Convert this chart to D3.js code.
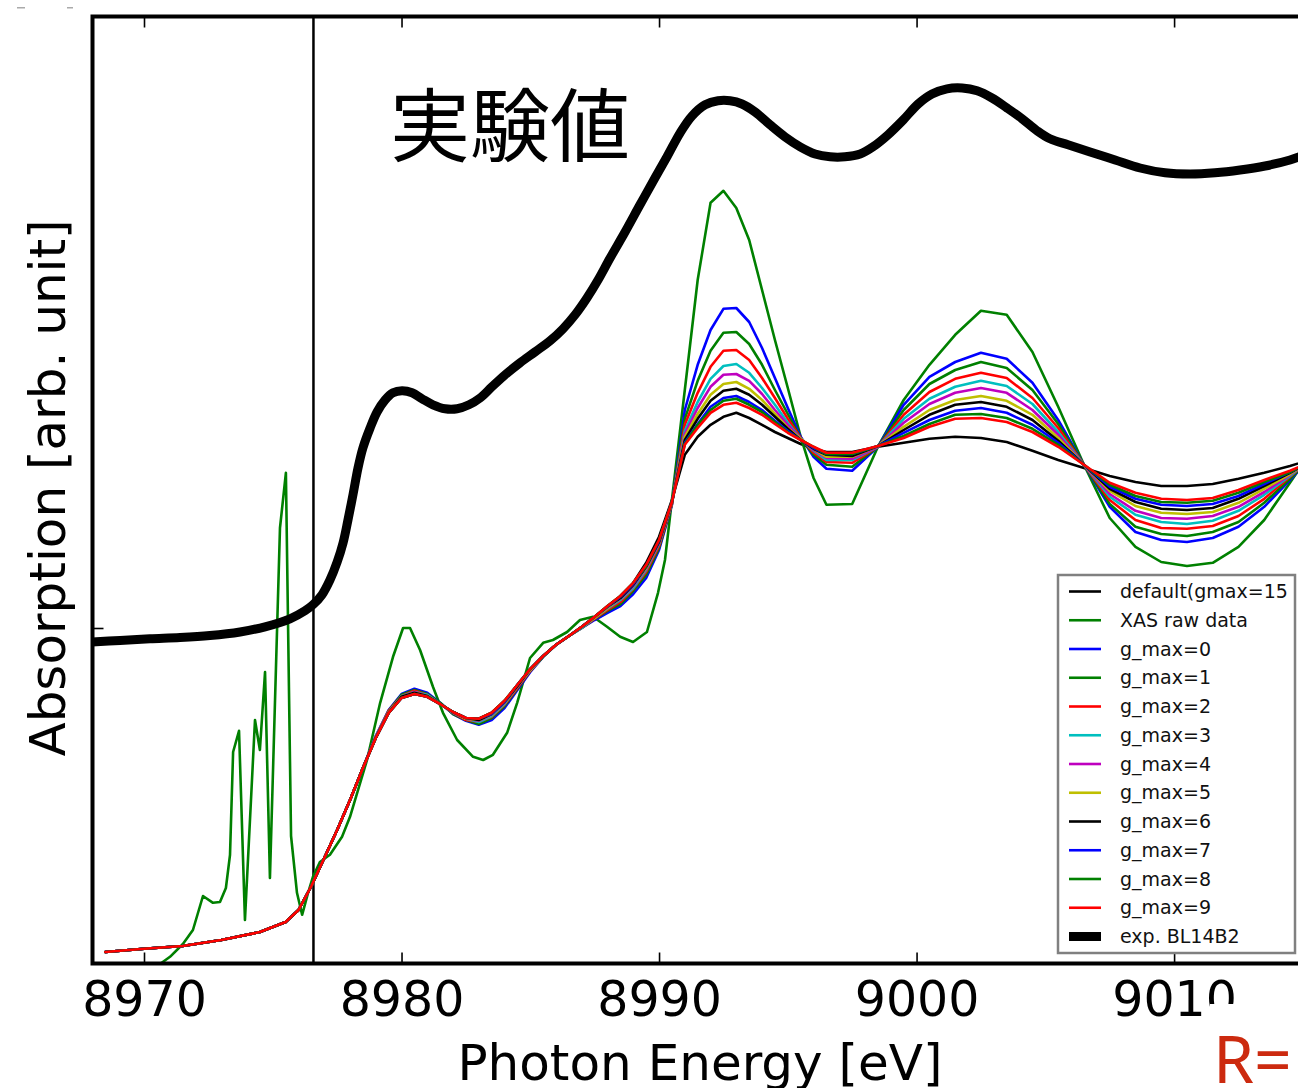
<!DOCTYPE html>
<html>
<head>
<meta charset="utf-8">
<script src="https://cdn.jsdelivr.net/npm/d3@7"></script>
<style>
  html, body { margin: 0; padding: 0; background: #ffffff; overflow: hidden; }
  svg { display: block; }
</style>
</head>
<body>
<svg id="chart" width="1298" height="1088"></svg>
<script>
// ---------- data ----------
// energy grid of the calculated spectra (eV)
const calcEnergy = [8968.5, 8970, 8971.5, 8973, 8974.5, 8975.5, 8976, 8976.5, 8977, 8977.5, 8978, 8978.5, 8979, 8979.5, 8980, 8980.5, 8981, 8981.5, 8982, 8982.5, 8983, 8983.5, 8984, 8984.5, 8985, 8985.5, 8986, 8986.5, 8987, 8987.5, 8988, 8988.5, 8989, 8989.5, 8990, 8990.5, 8991, 8991.5, 8992, 8992.5, 8993, 8993.5, 8994, 8994.5, 8995, 8995.5, 8996, 8996.5, 8997.5, 8998.5, 8999.5, 9000.5, 9001.5, 9002.5, 9003.5, 9004.5, 9005.5, 9006.5, 9007.5, 9008.5, 9009.5, 9010.5, 9011.5, 9012.5, 9013.5, 9014.5, 9015.5];

const defaultGmax15 = [0.09, 0.098, 0.105, 0.12, 0.14, 0.165, 0.195, 0.255, 0.325, 0.395, 0.47, 0.55, 0.625, 0.688, 0.725, 0.735, 0.728, 0.71, 0.69, 0.675, 0.673, 0.688, 0.718, 0.758, 0.798, 0.83, 0.858, 0.88, 0.903, 0.928, 0.955, 0.98, 1.013, 1.063, 1.128, 1.22, 1.333, 1.378, 1.408, 1.428, 1.438, 1.425, 1.408, 1.39, 1.375, 1.36, 1.348, 1.34, 1.34, 1.353, 1.363, 1.373, 1.378, 1.375, 1.365, 1.343, 1.32, 1.3, 1.28, 1.265, 1.255, 1.255, 1.26, 1.273, 1.288, 1.305, 1.325];

const gmax0 = [0.09, 0.098, 0.105, 0.12, 0.14, 0.165, 0.195, 0.255, 0.325, 0.395, 0.47, 0.55, 0.63, 0.695, 0.735, 0.748, 0.738, 0.713, 0.685, 0.668, 0.658, 0.67, 0.7, 0.745, 0.79, 0.828, 0.858, 0.88, 0.9, 0.92, 0.938, 0.955, 0.985, 1.025, 1.095, 1.208, 1.445, 1.558, 1.645, 1.698, 1.7, 1.665, 1.6, 1.525, 1.45, 1.378, 1.328, 1.298, 1.293, 1.353, 1.458, 1.528, 1.565, 1.588, 1.573, 1.513, 1.42, 1.308, 1.203, 1.14, 1.12, 1.115, 1.125, 1.153, 1.203, 1.27, 1.34];

const gmax1 = [0.09, 0.098, 0.105, 0.12, 0.14, 0.165, 0.195, 0.255, 0.325, 0.395, 0.47, 0.55, 0.628, 0.693, 0.733, 0.745, 0.735, 0.713, 0.685, 0.67, 0.66, 0.675, 0.705, 0.748, 0.793, 0.828, 0.858, 0.88, 0.9, 0.923, 0.943, 0.96, 0.993, 1.033, 1.1, 1.21, 1.423, 1.518, 1.593, 1.638, 1.64, 1.61, 1.558, 1.495, 1.435, 1.375, 1.333, 1.308, 1.303, 1.353, 1.445, 1.51, 1.545, 1.565, 1.55, 1.495, 1.41, 1.308, 1.21, 1.153, 1.135, 1.13, 1.14, 1.165, 1.213, 1.273, 1.338];

const gmax2 = [0.09, 0.098, 0.105, 0.12, 0.14, 0.165, 0.195, 0.255, 0.325, 0.395, 0.47, 0.55, 0.628, 0.693, 0.73, 0.743, 0.733, 0.71, 0.688, 0.67, 0.665, 0.678, 0.708, 0.75, 0.793, 0.83, 0.858, 0.88, 0.9, 0.923, 0.945, 0.965, 0.998, 1.04, 1.105, 1.21, 1.408, 1.488, 1.553, 1.593, 1.595, 1.57, 1.525, 1.475, 1.423, 1.375, 1.338, 1.315, 1.313, 1.353, 1.433, 1.49, 1.523, 1.538, 1.525, 1.475, 1.4, 1.308, 1.22, 1.17, 1.15, 1.148, 1.155, 1.18, 1.223, 1.278, 1.335];

const gmax3 = [0.09, 0.098, 0.105, 0.12, 0.14, 0.165, 0.195, 0.255, 0.325, 0.395, 0.47, 0.55, 0.628, 0.69, 0.73, 0.74, 0.733, 0.71, 0.688, 0.673, 0.665, 0.68, 0.71, 0.753, 0.795, 0.83, 0.858, 0.88, 0.9, 0.925, 0.948, 0.97, 1.0, 1.045, 1.11, 1.213, 1.393, 1.465, 1.523, 1.555, 1.56, 1.538, 1.5, 1.458, 1.413, 1.373, 1.343, 1.32, 1.32, 1.353, 1.423, 1.473, 1.503, 1.518, 1.505, 1.46, 1.39, 1.308, 1.228, 1.183, 1.165, 1.16, 1.168, 1.193, 1.233, 1.28, 1.333];

const gmax4 = [0.09, 0.098, 0.105, 0.12, 0.14, 0.165, 0.195, 0.255, 0.325, 0.395, 0.47, 0.55, 0.628, 0.69, 0.728, 0.74, 0.73, 0.71, 0.688, 0.673, 0.668, 0.683, 0.713, 0.753, 0.795, 0.83, 0.858, 0.88, 0.903, 0.925, 0.95, 0.973, 1.005, 1.048, 1.113, 1.213, 1.385, 1.45, 1.503, 1.533, 1.535, 1.518, 1.485, 1.445, 1.408, 1.373, 1.345, 1.325, 1.323, 1.353, 1.413, 1.46, 1.488, 1.5, 1.488, 1.445, 1.383, 1.308, 1.235, 1.193, 1.175, 1.173, 1.18, 1.203, 1.24, 1.283, 1.33];

const gmax5 = [0.09, 0.098, 0.105, 0.12, 0.14, 0.165, 0.195, 0.255, 0.325, 0.395, 0.47, 0.55, 0.625, 0.69, 0.728, 0.738, 0.73, 0.71, 0.69, 0.673, 0.67, 0.683, 0.713, 0.755, 0.795, 0.83, 0.858, 0.88, 0.903, 0.925, 0.95, 0.975, 1.008, 1.05, 1.115, 1.213, 1.378, 1.435, 1.483, 1.51, 1.515, 1.498, 1.47, 1.435, 1.4, 1.373, 1.348, 1.328, 1.328, 1.355, 1.403, 1.445, 1.47, 1.48, 1.468, 1.433, 1.375, 1.308, 1.243, 1.205, 1.188, 1.185, 1.19, 1.213, 1.248, 1.285, 1.328];

const gmax6 = [0.09, 0.098, 0.105, 0.12, 0.14, 0.165, 0.195, 0.255, 0.325, 0.395, 0.47, 0.55, 0.625, 0.688, 0.728, 0.738, 0.73, 0.71, 0.69, 0.675, 0.67, 0.685, 0.715, 0.755, 0.798, 0.83, 0.858, 0.88, 0.903, 0.928, 0.953, 0.975, 1.008, 1.053, 1.115, 1.215, 1.37, 1.423, 1.468, 1.493, 1.498, 1.483, 1.458, 1.428, 1.398, 1.37, 1.348, 1.333, 1.33, 1.355, 1.395, 1.433, 1.458, 1.465, 1.453, 1.42, 1.368, 1.308, 1.248, 1.215, 1.198, 1.195, 1.2, 1.223, 1.255, 1.288, 1.325];

const gmax7 = [0.09, 0.098, 0.105, 0.12, 0.14, 0.165, 0.195, 0.255, 0.325, 0.395, 0.47, 0.55, 0.625, 0.688, 0.725, 0.735, 0.728, 0.71, 0.69, 0.675, 0.673, 0.685, 0.715, 0.758, 0.798, 0.83, 0.858, 0.88, 0.903, 0.928, 0.953, 0.978, 1.01, 1.055, 1.118, 1.215, 1.363, 1.41, 1.453, 1.475, 1.48, 1.465, 1.445, 1.418, 1.393, 1.37, 1.35, 1.335, 1.335, 1.355, 1.388, 1.42, 1.443, 1.45, 1.438, 1.408, 1.363, 1.308, 1.253, 1.223, 1.208, 1.205, 1.21, 1.23, 1.26, 1.29, 1.323];

const gmax8 = [0.09, 0.098, 0.105, 0.12, 0.14, 0.165, 0.195, 0.255, 0.325, 0.395, 0.47, 0.55, 0.625, 0.688, 0.725, 0.735, 0.728, 0.71, 0.69, 0.675, 0.673, 0.688, 0.718, 0.758, 0.798, 0.83, 0.858, 0.88, 0.903, 0.928, 0.955, 0.98, 1.013, 1.055, 1.12, 1.215, 1.36, 1.408, 1.445, 1.468, 1.473, 1.458, 1.44, 1.415, 1.39, 1.37, 1.353, 1.335, 1.335, 1.355, 1.38, 1.41, 1.433, 1.435, 1.425, 1.398, 1.358, 1.308, 1.258, 1.23, 1.215, 1.213, 1.218, 1.238, 1.265, 1.29, 1.323];

const gmax9 = [0.09, 0.098, 0.105, 0.12, 0.14, 0.165, 0.195, 0.255, 0.325, 0.395, 0.47, 0.55, 0.625, 0.688, 0.725, 0.735, 0.728, 0.71, 0.69, 0.675, 0.673, 0.688, 0.718, 0.758, 0.798, 0.83, 0.858, 0.88, 0.903, 0.928, 0.955, 0.98, 1.013, 1.058, 1.12, 1.215, 1.358, 1.4, 1.438, 1.458, 1.463, 1.45, 1.433, 1.41, 1.388, 1.37, 1.353, 1.338, 1.338, 1.355, 1.375, 1.403, 1.423, 1.425, 1.415, 1.39, 1.353, 1.308, 1.263, 1.238, 1.223, 1.22, 1.225, 1.245, 1.27, 1.293, 1.32];

// measured XAS spectrum (raw)
const rawEnergy = [8970.23, 8970.62, 8971.01, 8971.51, 8971.90, 8972.29, 8972.68, 8972.95, 8973.18, 8973.34, 8973.46, 8973.69, 8973.92, 8974.31, 8974.50, 8974.70, 8974.89, 8975.28, 8975.51, 8975.71, 8975.94, 8976.14, 8976.37, 8976.56, 8976.83, 8977.22, 8977.69, 8978.00, 8978.66, 8979.17, 8979.67, 8980.06, 8980.33, 8980.72, 8981.22, 8981.61, 8982.16, 8982.78, 8983.17, 8983.55, 8984.10, 8984.49, 8984.99, 8985.50, 8985.88, 8986.43, 8986.93, 8987.44, 8987.98, 8988.49, 8988.99, 8989.53, 8989.96, 8990.23, 8990.5, 8991, 8991.5, 8992, 8992.5, 8993, 8993.5, 8994, 8994.5, 8995, 8995.5, 8996, 8996.5, 8997.5, 8998.5, 8999.5, 9000.5, 9001.5, 9002.5, 9003.5, 9004.5, 9005.5, 9006.5, 9007.5, 9008.5, 9009.5, 9010.5, 9011.5, 9012.5, 9013.5, 9014.5, 9015.5];
const rawXas = [0.025, 0.06, 0.078, 0.11, 0.145, 0.23, 0.213, 0.215, 0.25, 0.333, 0.59, 0.643, 0.17, 0.67, 0.595, 0.79, 0.275, 1.15, 1.288, 0.38, 0.238, 0.183, 0.238, 0.278, 0.315, 0.333, 0.378, 0.428, 0.57, 0.713, 0.828, 0.9, 0.9, 0.845, 0.753, 0.688, 0.62, 0.578, 0.57, 0.583, 0.638, 0.713, 0.825, 0.863, 0.87, 0.89, 0.92, 0.928, 0.903, 0.878, 0.865, 0.89, 0.988, 1.07, 1.22, 1.495, 1.77, 1.963, 1.993, 1.95, 1.87, 1.745, 1.62, 1.5, 1.378, 1.275, 1.208, 1.21, 1.353, 1.47, 1.558, 1.633, 1.693, 1.683, 1.59, 1.453, 1.308, 1.175, 1.103, 1.065, 1.055, 1.063, 1.103, 1.17, 1.263, 1.358];

// experimental spectrum, beamline BL14B2 (offset upward)
const expEnergy = [8967.98, 8969.07, 8970.23, 8971.40, 8972.56, 8973.73, 8974.70, 8975.67, 8976.25, 8976.56, 8976.91, 8977.22, 8977.50, 8977.73, 8977.92, 8978.12, 8978.31, 8978.50, 8978.78, 8979.05, 8979.36, 8979.67, 8980.02, 8980.41, 8980.80, 8981.22, 8981.69, 8982.16, 8982.62, 8983.05, 8983.51, 8984.02, 8984.60, 8985.18, 8985.77, 8986.27, 8986.74, 8987.20, 8987.63, 8988.10, 8988.68, 8989.26, 8989.84, 8990.35, 8990.82, 8991.28, 8991.79, 8992.29, 8992.76, 8993.22, 8993.73, 8994.31, 8994.89, 8995.48, 8996.06, 8996.64, 8997.22, 8997.81, 8998.31, 8998.89, 8999.48, 9000.06, 9000.60, 9001.18, 9001.77, 9002.35, 9002.93, 9003.51, 9004.10, 9004.68, 9005.18, 9005.88, 9006.74, 9007.71, 9008.68, 9009.65, 9010.62, 9011.59, 9012.56, 9013.53, 9014.50, 9015.28];
const expBL14B2 = [0.865, 0.869, 0.873, 0.876, 0.881, 0.89, 0.903, 0.923, 0.943, 0.958, 0.983, 1.02, 1.065, 1.113, 1.17, 1.235, 1.3, 1.35, 1.4, 1.44, 1.47, 1.488, 1.493, 1.488, 1.473, 1.458, 1.448, 1.448, 1.458, 1.475, 1.503, 1.533, 1.563, 1.59, 1.618, 1.648, 1.683, 1.725, 1.77, 1.825, 1.89, 1.958, 2.025, 2.083, 2.138, 2.18, 2.208, 2.218, 2.218, 2.21, 2.19, 2.158, 2.128, 2.103, 2.085, 2.078, 2.078, 2.085, 2.103, 2.133, 2.17, 2.21, 2.235, 2.248, 2.25, 2.243, 2.225, 2.2, 2.173, 2.143, 2.123, 2.108, 2.09, 2.07, 2.05, 2.038, 2.035, 2.038, 2.045, 2.055, 2.07, 2.088];

const xTicks = [8970, 8980, 8990, 9000, 9010];
const yTicks = [0.9];
const edgeEnergy = 8976.58;

const legendLabels = ["default(gmax=15", "XAS raw data", "g_max=0", "g_max=1", "g_max=2", "g_max=3", "g_max=4", "g_max=5", "g_max=6", "g_max=7", "g_max=8", "g_max=9", "exp. BL14B2"];

// ---------- series table ----------
const C = { b: "#0000ff", g: "#008000", r: "#ff0000", c: "#00bfbf", m: "#bf00bf", y: "#bfbf00", k: "#000000" };
const series = [
  { label: legendLabels[0],  xs: calcEnergy, ys: defaultGmax15, color: C.k, width: 2.6 },
  { label: legendLabels[1],  xs: rawEnergy,  ys: rawXas,        color: C.g, width: 2.6 },
  { label: legendLabels[2],  xs: calcEnergy, ys: gmax0, color: C.b, width: 2.6 },
  { label: legendLabels[3],  xs: calcEnergy, ys: gmax1, color: C.g, width: 2.6 },
  { label: legendLabels[4],  xs: calcEnergy, ys: gmax2, color: C.r, width: 2.6 },
  { label: legendLabels[5],  xs: calcEnergy, ys: gmax3, color: C.c, width: 2.6 },
  { label: legendLabels[6],  xs: calcEnergy, ys: gmax4, color: C.m, width: 2.6 },
  { label: legendLabels[7],  xs: calcEnergy, ys: gmax5, color: C.y, width: 2.6 },
  { label: legendLabels[8],  xs: calcEnergy, ys: gmax6, color: C.k, width: 2.6 },
  { label: legendLabels[9],  xs: calcEnergy, ys: gmax7, color: C.b, width: 2.6 },
  { label: legendLabels[10], xs: calcEnergy, ys: gmax8, color: C.g, width: 2.6 },
  { label: legendLabels[11], xs: calcEnergy, ys: gmax9, color: C.r, width: 2.6 },
  { label: legendLabels[12], xs: expEnergy,  ys: expBL14B2, color: C.k, width: 9, smooth: true }
];

// ---------- layout ----------
const svg = d3.select("#chart");
const box = { left: 92.5, top: 16.5, right: 1308, bottom: 963.5 };
const x = d3.scaleLinear().domain([8968, 9015.2]).range([box.left, box.right]);
const y = d3.scaleLinear().domain([0.0625, 2.43]).range([963, 16]);
const FONT = "'DejaVu Sans', 'Liberation Sans', sans-serif";

svg.append("rect").attr("width", 1298).attr("height", 1088).attr("fill", "#ffffff");

svg.append("defs").append("clipPath").attr("id", "plotclip")
  .append("rect")
  .attr("x", box.left).attr("y", box.top)
  .attr("width", box.right - box.left).attr("height", box.bottom - box.top);

const plot = svg.append("g").attr("clip-path", "url(#plotclip)");

// edge position marker
plot.append("line")
  .attr("x1", x(edgeEnergy)).attr("x2", x(edgeEnergy))
  .attr("y1", box.top).attr("y2", box.bottom)
  .attr("stroke", "#000").attr("stroke-width", 2.5);

// spectra
series.forEach(s => {
  const pts = s.xs.map((e, i) => [e, s.ys[i]]);
  const line = d3.line()
    .x(d => x(d[0])).y(d => y(d[1]))
    .curve(s.smooth ? d3.curveCatmullRom.alpha(0.5) : d3.curveLinear);
  plot.append("path")
    .datum(pts)
    .attr("d", line)
    .attr("fill", "none")
    .attr("stroke", s.color)
    .attr("stroke-width", s.width)
    .attr("stroke-linejoin", "round")
    .attr("stroke-linecap", s.smooth ? "butt" : "round");
});

// ticks (inward, no labels on y)
const tickStyle = g => {
  g.select(".domain").remove();
  g.selectAll(".tick line").attr("stroke", "#000").attr("stroke-width", 1.6);
};
svg.append("g").attr("transform", `translate(0,${box.bottom})`)
  .call(d3.axisBottom(x).tickValues(xTicks).tickFormat(d3.format("d"))
    .tickSizeInner(-11).tickSizeOuter(0).tickPadding(17.5))
  .call(tickStyle)
  .call(g => g.selectAll(".tick text")
    .attr("font-family", FONT).attr("font-size", 49).attr("fill", "#000"));

svg.append("g").attr("transform", `translate(0,${box.top})`)
  .call(d3.axisTop(x).tickValues(xTicks).tickSizeInner(-11).tickSizeOuter(0).tickFormat(""))
  .call(tickStyle);

svg.append("g").attr("transform", `translate(${box.left},0)`)
  .call(d3.axisLeft(y).tickValues(yTicks).tickSizeInner(-11).tickSizeOuter(0).tickFormat(""))
  .call(tickStyle);

// axes frame
svg.append("rect")
  .attr("x", box.left).attr("y", box.top)
  .attr("width", box.right - box.left).attr("height", box.bottom - box.top)
  .attr("fill", "none").attr("stroke", "#000").attr("stroke-width", 4);

// axis titles
svg.append("text")
  .attr("x", 700).attr("y", 1080)
  .attr("text-anchor", "middle")
  .attr("font-family", FONT).attr("font-size", 50).attr("fill", "#000")
  .text("Photon Energy [eV]");

svg.append("text")
  .attr("transform", "translate(65,488) rotate(-90)")
  .attr("text-anchor", "middle")
  .attr("font-family", FONT).attr("font-size", 50).attr("fill", "#000")
  .text("Absorption [arb. unit]");

// annotation on the experimental curve
svg.append("text")
  .attr("x", 390).attr("y", 155)
  .attr("font-family", "'Noto Sans CJK JP', 'Noto Sans CJK SC', sans-serif")
  .attr("font-size", 80).attr("fill", "#000")
  .text("実験値");

// legend
const lg = { x: 1058, y: 575, w: 237, h: 378, row0: 591.5, step: 28.75 };
const legend = svg.append("g");
legend.append("rect")
  .attr("x", lg.x).attr("y", lg.y).attr("width", lg.w).attr("height", lg.h)
  .attr("fill", "#fff").attr("stroke", "#808080").attr("stroke-width", 2.5);
series.forEach((s, i) => {
  const yy = lg.row0 + i * lg.step;
  legend.append("line")
    .attr("x1", 1069).attr("x2", 1101).attr("y1", yy).attr("y2", yy)
    .attr("stroke", s.color).attr("stroke-width", s.smooth ? 9 : 2.6);
  legend.append("text")
    .attr("x", 1120).attr("y", yy + 6.5)
    .attr("font-family", FONT).attr("font-size", 19).attr("fill", "#111")
    .text(s.label);
});

// panel overlay in the lower right corner
svg.append("rect").attr("x", 1210).attr("y", 1004).attr("width", 88).attr("height", 84).attr("fill", "#fff");
svg.append("text")
  .attr("x", 1213).attr("y", 1083)
  .attr("font-family", "'Noto Sans', 'Open Sans', sans-serif")
  .attr("font-size", 66).attr("fill", "#cc2a0f")
  .text("R=");

// small marks at the top-left corner
svg.append("rect").attr("x", 17).attr("y", 7).attr("width", 8).attr("height", 1.5).attr("fill", "#aaa");
svg.append("rect").attr("x", 67).attr("y", 7).attr("width", 6).attr("height", 1.5).attr("fill", "#aaa");
</script>
</body>
</html>
